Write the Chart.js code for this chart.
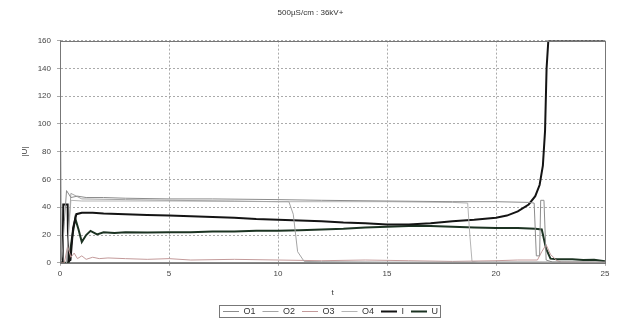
<!DOCTYPE html>
<html>
<head>
<meta charset="utf-8">
<script src="https://cdn.jsdelivr.net/npm/chart.js@4"></script>
<style>
  html, body { margin: 0; padding: 0; background: #fff; }
  #wrap { width: 621px; height: 324px; }
</style>
</head>
<body>
<div id="wrap"><canvas id="c"></canvas></div>
<script>
// values
const xTicks = [0, 5, 10, 15, 20, 25];
const yTicks = [0, 20, 40, 60, 80, 100, 120, 140, 160];

const o1T = [0, 0.03, 0.06, 0.1, 0.2, 0.3, 0.5, 0.8, 1.2, 2, 3, 5, 7, 10, 12, 15, 18, 20, 21.5, 21.75, 21.85, 22.0, 22.05, 22.2, 22.3, 22.6, 25];
const o1V = [0, 80, 2, 5, 30, 52, 47, 48, 47, 47, 46.5, 46, 46, 45.5, 45, 44.5, 44, 44, 43.5, 43, 5, 5, 45, 45, 2, 0.5, 0.5];

const o2T = [0.3, 0.5, 1, 3, 5, 8, 10, 10.5, 10.7, 10.9, 11.2, 12, 15, 20, 22, 25];
const o2V = [0, 50, 46, 45.5, 45, 44.5, 44, 44, 35, 8, 1, 0.8, 0.5, 0.5, 0.5, 0.3];

const o3T = [0, 0.2, 0.35, 0.5, 0.65, 0.8, 1.0, 1.2, 1.5, 1.8, 2.2, 3, 4, 5, 6, 8, 10, 12, 14, 16, 18, 20, 21, 21.9, 22.1, 22.3, 22.5, 22.8, 23, 25];
const o3V = [0, 0, 12, 4, 7, 3, 5, 2.5, 4, 3, 3.5, 3, 2.5, 3, 2, 2.5, 2, 1.5, 2, 1.5, 1, 1.5, 2, 2, 8, 13, 6, 1.5, 0.5, 0.3];

const o4T = [0.3, 0.5, 1, 5, 10, 15, 18, 18.7, 18.8, 18.9, 19.2, 22, 25];
const o4V = [0, 45, 44.5, 44.5, 44, 44, 43.5, 43, 20, 1, 0.5, 0.5, 0.3];

const iT = [0, 0.12, 0.15, 0.35, 0.38, 0.48, 0.6, 0.75, 1.0, 1.5, 2, 3, 4, 5, 6, 7, 8, 9, 10, 11, 12, 13, 14, 15, 16, 17, 18, 19, 20, 20.5, 21, 21.5, 21.8, 22.0, 22.15, 22.25, 22.32, 22.4, 25];
const iV = [0, 0, 42, 42, 1, 2, 25, 35, 36, 36, 35.5, 35, 34.5, 34, 33.5, 33, 32.5, 31.5, 31, 30.5, 30, 29, 28.5, 27.5, 27.5, 28.5, 30, 31, 32.5, 34, 37, 42, 48, 56, 70, 95, 140, 160, 160];

const uT = [0, 0.4, 0.55, 0.7, 0.85, 1.0, 1.2, 1.4, 1.7, 2, 2.5, 3, 4, 5, 6, 7, 8, 9, 10, 11, 12, 13, 14, 15, 16, 17, 18, 19, 20, 21, 21.8, 22.1, 22.3, 22.5, 22.8, 23.5, 24, 24.5, 25];
const uV = [0, 0, 18, 32, 24, 15, 20, 23, 20.5, 22, 21.5, 22, 21.8, 22, 22, 22.5, 22.5, 23, 23, 23.5, 24, 24.5, 25.5, 26, 26.5, 26.5, 26, 25.5, 25, 25, 24.5, 24, 10, 3, 2.5, 2.5, 2, 2.2, 1.2];

function pts(ts, vs) {
    return ts.map((t, i) => ({ x: t, y: vs[i] }));
}

function serie(label, ts, vs, color, width) {
    return {
        label: label,
        data: pts(ts, vs),
        borderColor: color,
        backgroundColor: color,
        borderWidth: width,
        pointRadius: 0,
        tension: 0,
        fill: false
    };
}

// marco del área de trazado y caja de la leyenda
const frames = {
    id: 'frames',
    afterLayout(chart) {
        // la leyenda del original está algo desplazada a la derecha
        if (chart.legend) {
            chart.legend.left += 20;
            chart.legend.right += 20;
            chart.legend.top += 2;
            chart.legend.bottom += 2;
        }
    },
    afterDraw(chart) {
        const ctx = chart.ctx;
        const a = chart.chartArea;
        ctx.save();
        ctx.strokeStyle = '#777';
        ctx.lineWidth = 1;
        ctx.strokeRect(Math.round(a.left) + 0.5, Math.round(a.top) + 0.5, Math.round(a.right - a.left), Math.round(a.bottom - a.top));
        const boxes = chart.legend && chart.legend.legendHitBoxes;
        if (boxes && boxes.length) {
            const left = Math.min(...boxes.map(b => b.left));
            const right = Math.max(...boxes.map(b => b.left + b.width));
            const top = Math.min(...boxes.map(b => b.top));
            const bottom = Math.max(...boxes.map(b => b.top + b.height));
            ctx.strokeRect(Math.round(left - 4) + 0.5, Math.round(top - 2) + 0.5, Math.round(right - left + 6), Math.round(bottom - top + 3));
        }
        ctx.restore();
    }
};

const font = { family: '"Liberation Sans", Arial, sans-serif', size: 8 };
const fontL = { family: '"Liberation Sans", Arial, sans-serif', size: 9 };

new Chart(document.getElementById('c'), {
    type: 'line',
    data: {
        datasets: [
            serie('O1', o1T, o1V, '#8c8c8c', 1),
            serie('O2', o2T, o2V, '#a4a4a4', 1),
            serie('O3', o3T, o3V, '#c39a9a', 1),
            serie('O4', o4T, o4V, '#b4b4b4', 1),
            serie('I', iT, iV, '#141414', 2),
            serie('U', uT, uV, '#1c3322', 2)
        ]
    },
    plugins: [frames],
    options: {
        responsive: true,
        maintainAspectRatio: false,
        animation: false,
        layout: { padding: { left: 16, right: 16, top: 2, bottom: 0 } },
        plugins: {
            title: {
                display: true,
                text: '500µS/cm : 36kV+',
                color: '#333',
                font: { family: font.family, size: 8, weight: 'normal' },
                padding: { top: 6, bottom: 23 }
            },
            legend: {
                position: 'bottom',
                labels: {
                    color: '#333',
                    font: fontL,
                    usePointStyle: true,
                    pointStyle: 'line',
                    pointStyleWidth: 16,
                    boxHeight: 9,
                    padding: 7
                }
            },
            tooltip: { enabled: false }
        },
        scales: {
            x: {
                type: 'linear',
                min: 0,
                max: 25,
                afterBuildTicks: (axis) => { axis.ticks = xTicks.map(v => ({ value: v })); },
                ticks: { color: '#444', font: font, maxRotation: 0, padding: 3 },
                grid: { color: '#aaa', lineWidth: 1, tickLength: 3 },
                border: { color: '#888', dash: [2, 2] },
                title: { display: true, text: 't', color: '#333', font: font, padding: { top: 7, bottom: 0 } }
            },
            y: {
                min: 0,
                max: 160,
                afterBuildTicks: (axis) => { axis.ticks = yTicks.map(v => ({ value: v })); },
                afterFit: (scale) => { scale.width = 44; },
                ticks: { color: '#444', font: font, padding: 6 },
                grid: { color: '#aaa', lineWidth: 1, tickLength: 3 },
                border: { color: '#888', dash: [2, 2] },
                title: { display: true, text: '|U|', color: '#333', font: font }
            }
        }
    }
});
</script>
</body>
</html>
